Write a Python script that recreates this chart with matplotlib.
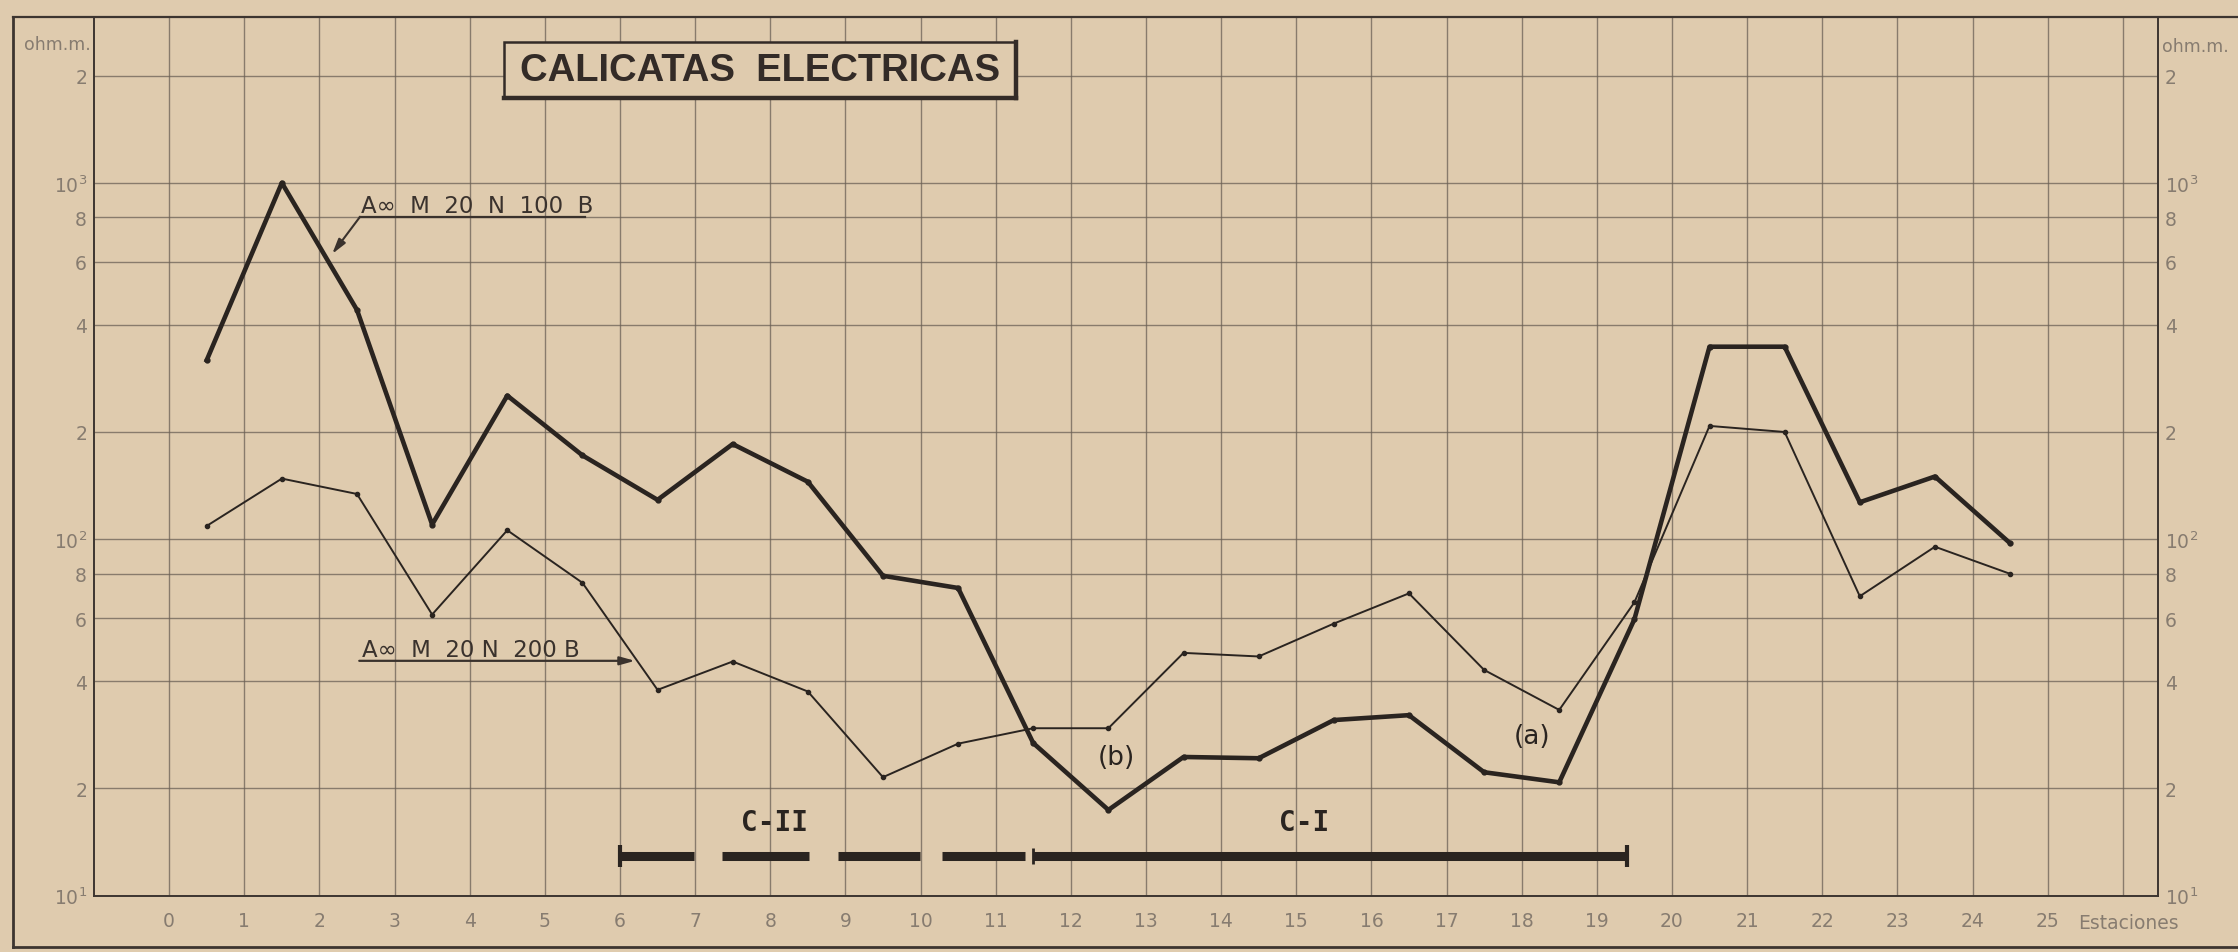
import numpy as np
import matplotlib
matplotlib.use('Agg')
import matplotlib.pyplot as plt
from matplotlib.ticker import NullLocator
from matplotlib.patches import Rectangle
from matplotlib.lines import Line2D

# stations (midpoints between pegs)
estaciones = [0.5, 1.5, 2.5, 3.5, 4.5, 5.5, 6.5, 7.5, 8.5, 9.5, 10.5, 11.5,
              12.5, 13.5, 14.5, 15.5, 16.5, 17.5, 18.5, 19.5, 20.5, 21.5,
              22.5, 23.5, 24.5]

# A oo M 20 N 100 B  (thick line), ohm.m
rho_100 = [318, 1000, 440, 110, 253, 172, 129, 185, 145, 79, 73, 26.8,
           17.4, 24.5, 24.3, 31.1, 32.1, 22.2, 20.8, 59.6, 347, 347,
           127, 150, 97.5]

# A oo M 20 N 200 B  (thin line), ohm.m
rho_200 = [109, 148, 134, 61.5, 106, 75.5, 37.8, 45.4, 37.4, 21.5, 26.7, 29.5,
           29.5, 48, 46.9, 58, 70.5, 43, 33.2, 66.5, 208, 200,
           69.2, 95.3, 80]

# conductive zones along the profile
cii_tramos = [(6.0, 6.99), (7.36, 8.51), (8.9, 9.99), (10.29, 11.39)]
ci_tramo = (11.5, 19.4)
zona_rho = 12.9

ytick_vals = [10, 20, 40, 60, 80, 100, 200, 400, 600, 800, 1000, 2000]
ytick_labels = ['10$^1$', '2', '4', '6', '8', '10$^2$', '2', '4', '6', '8', '10$^3$', '2']
xtick_vals = list(range(27))
xtick_labels = [str(i) for i in range(26)] + ['']

bg = '#dfcbae'
ink = '#2a2420'
grey = '#877c70'
gridc = '#6b6056'

plt.rcParams['font.family'] = ['DejaVu Sans']

fig = plt.figure(figsize=(22.38, 9.53), dpi=100, facecolor=bg)
ax = fig.add_axes([0.0420, 0.0591, 0.9643 - 0.0420, 0.9811 - 0.0591])
ax.set_facecolor(bg)

ax.set_yscale('log')
ax.set_xlim(-1, 26.47)
ax.set_ylim(10, 2920)

ax.set_yticks(ytick_vals)
ax.set_yticklabels(ytick_labels)
ax.yaxis.set_minor_locator(NullLocator())
ax.set_xticks(xtick_vals)
ax.set_xticklabels(xtick_labels)

ax.tick_params(axis='y', length=0, pad=5, labelsize=13.5, labelcolor=grey,
               labelleft=True, labelright=True)
ax.tick_params(axis='x', length=0, pad=11, labelsize=13.5, labelcolor=grey)

ax.grid(True, which='major', color=gridc, lw=1.0, alpha=0.75)
for s in ax.spines.values():
    s.set_color('#3d3530')
    s.set_linewidth(1.4)

# data lines
ax.plot(estaciones, rho_200, color=ink, lw=1.4, marker='o', ms=3, zorder=4)
ax.plot(estaciones, rho_100, color=ink, lw=3.3, marker='o', ms=3.5,
        solid_joinstyle='round', zorder=5)

# zone bars
for a, b in cii_tramos:
    ax.plot([a, b], [zona_rho, zona_rho], color=ink, lw=6.5,
            solid_capstyle='butt', zorder=5)
ax.plot(list(ci_tramo), [zona_rho, zona_rho], color=ink, lw=6.5,
        solid_capstyle='butt', zorder=5)
ax.plot([6.0, 19.4], [zona_rho, zona_rho], ls='none', marker='|',
        ms=16, mew=3, color=ink, zorder=5)
ax.plot([11.5], [zona_rho], ls='none', marker='|', ms=12, mew=2, color=ink, zorder=5)

ax.text(8.05, 16.1, 'C-II', fontsize=20, fontweight='bold',
        family='DejaVu Sans Mono', color=ink, ha='center', va='center')
ax.text(15.1, 16.1, 'C-I', fontsize=20, fontweight='bold',
        family='DejaVu Sans Mono', color=ink, ha='center', va='center')

ax.text(12.6, 24.5, '(b)', fontsize=19, color=ink, ha='center', va='center')
ax.text(18.14, 28.1, '(a)', fontsize=19, color=ink, ha='center', va='center')

# curve labels
lab_kw = dict(fontsize=16.5, color='#3a322d', family=['DejaVu Sans'])
ax.text(2.55, 830, 'A\u221e  M  20  N  100  B', ha='left', va='baseline', **lab_kw)
ax.plot([2.54, 5.54], [803, 803], color='#3a322d', lw=1.6)
ax.annotate('', xy=(2.17, 632), xytext=(2.54, 803),
            arrowprops=dict(arrowstyle='-|>,head_length=0.9,head_width=0.25',
                            color='#3a322d', lw=1.5, shrinkA=0, shrinkB=0))

ax.text(2.57, 47.0, 'A\u221e  M  20 N  200 B', ha='left', va='baseline', **lab_kw)
ax.annotate('', xy=(6.20, 45.6), xytext=(2.53, 45.6),
            arrowprops=dict(arrowstyle='-|>,head_length=0.9,head_width=0.25',
                            color='#3a322d', lw=1.6, shrinkA=0, shrinkB=0))

# title box
W, H = 2238.0, 953.0
x0, x1, y0, y1 = 504, 1016, 43, 99
fig.add_artist(Rectangle((x0 / W, 1 - y1 / H), (x1 - x0) / W, (y1 - y0) / H,
                         transform=fig.transFigure, facecolor=bg,
                         edgecolor='#332b27', lw=1.8, zorder=6))
fig.add_artist(Line2D([x0 / W, x1 / W], [1 - y1 / H, 1 - y1 / H],
                      transform=fig.transFigure, color='#332b27', lw=3.2, zorder=7))
fig.add_artist(Line2D([x1 / W, x1 / W], [1 - y1 / H, 1 - y0 / H],
                      transform=fig.transFigure, color='#332b27', lw=3.2, zorder=7))
fig.text((x0 + x1) / 2 / W, 1 - 71 / H, 'CALICATAS  ELECTRICAS', fontsize=27.5,
         fontweight='bold', family=['Liberation Sans', 'DejaVu Sans'],
         color='#332b27', ha='center', va='center', zorder=8)

# unit labels
fig.text(57 / W, 1 - 45 / H, 'ohm.m.', fontsize=12.5, color=grey, ha='center', va='center')
fig.text(2195 / W, 1 - 47 / H, 'ohm.m.', fontsize=12.5, color=grey, ha='center', va='center')
fig.text(2128 / W, 1 - 924 / H, 'Estaciones', fontsize=13.5, color=grey,
         ha='center', va='center')

# outer frame
fl = 13 / W
fb = 1 - 948 / H
ft = 1 - 18 / H
fig.add_artist(Line2D([fl, fl], [fb, ft], transform=fig.transFigure, color='#3d3530', lw=2))
fig.add_artist(Line2D([fl, 1], [fb, fb], transform=fig.transFigure, color='#3d3530', lw=2))
fig.add_artist(Line2D([fl, 1], [ft, ft], transform=fig.transFigure, color='#3d3530', lw=1.6))

fig.savefig('out.png', dpi=100, facecolor=bg)
